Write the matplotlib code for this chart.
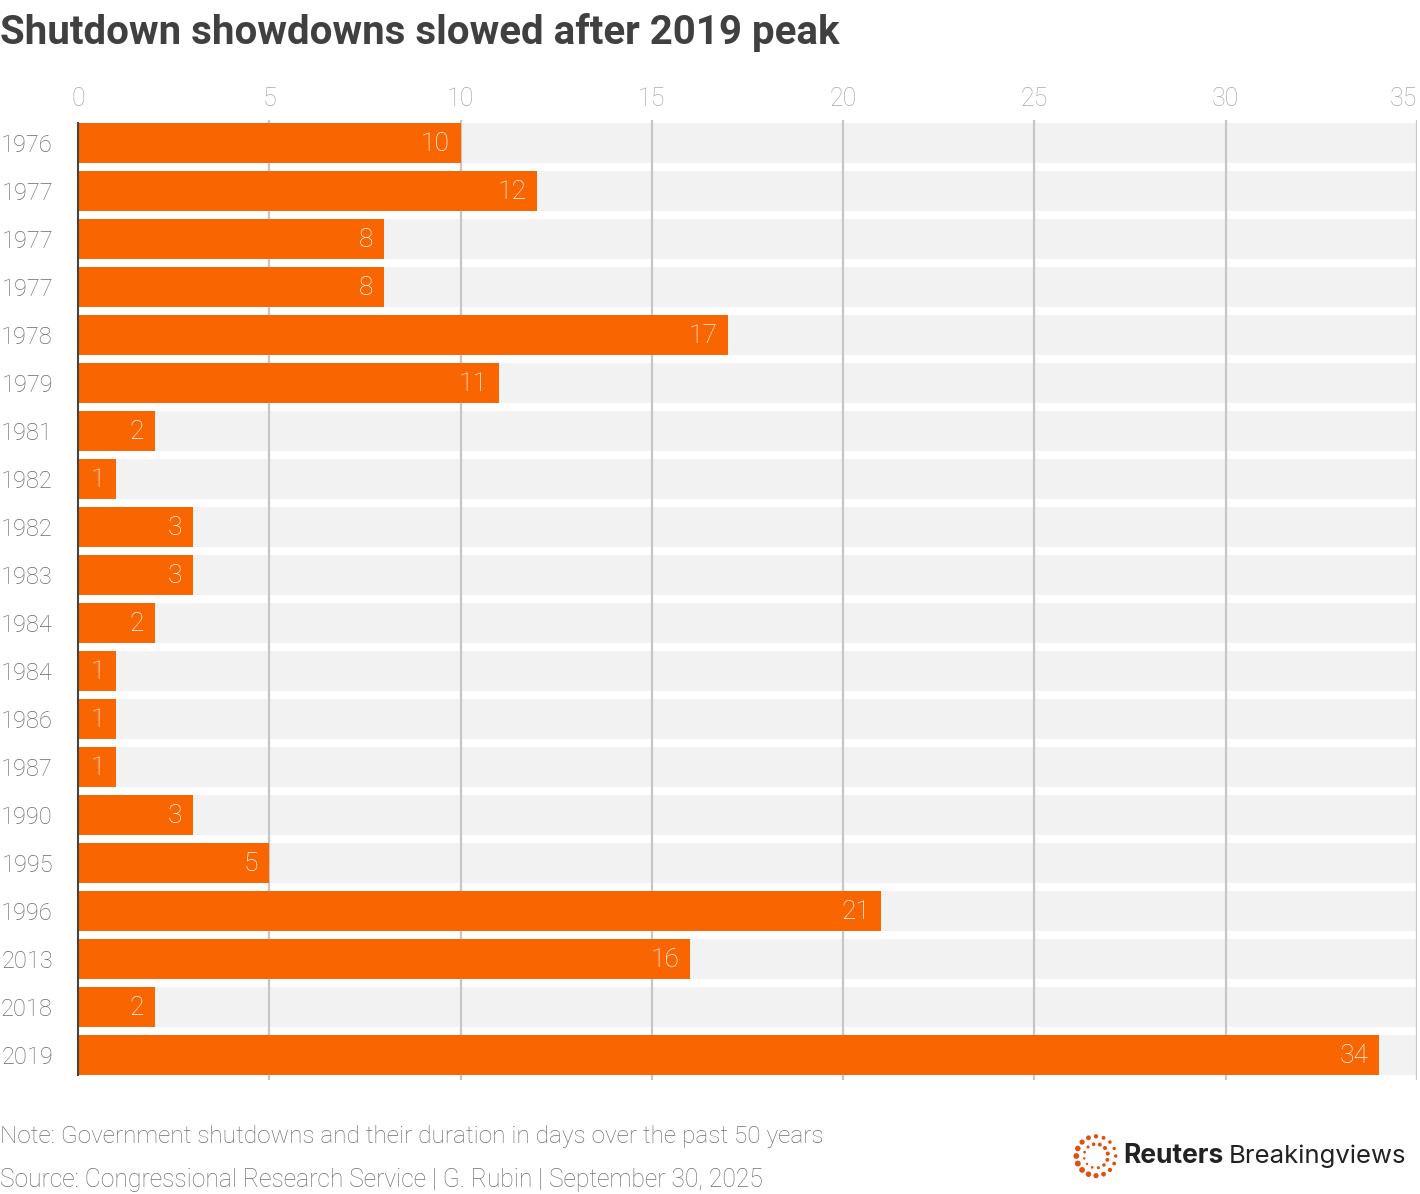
import numpy as np
import matplotlib
matplotlib.use("Agg")
import matplotlib.pyplot as plt

years = ["1976", "1977", "1977", "1977", "1978", "1979", "1981", "1982", "1982", "1983",
         "1984", "1984", "1986", "1987", "1990", "1995", "1996", "2013", "2018", "2019"]
days = [10, 12, 8, 8, 17, 11, 2, 1, 3, 3, 2, 1, 1, 1, 3, 5, 21, 16, 2, 34]
xticks = [0, 5, 10, 15, 20, 25, 30, 35]

title = "Shutdown showdowns slowed after 2019 peak"
note = "Note: Government shutdowns and their duration in days over the past 50 years"
source = "Source: Congressional Research Service | G. Rubin | September 30, 2025"

FONT = "Roboto"
FW = "light"
BAR = "#f96500"
BAND = "#f2f2f2"
GRID = "#c6c6c6"

fig = plt.figure(figsize=(14.2, 11.94), dpi=100)
ax = fig.add_axes([78/1420, 1 - 1079.5/1194, (1417-78)/1420, 960/1194])

n = len(years)
ypos = np.arange(n)
h = 40/48
ax.barh(ypos, [35]*n, height=h, color=BAND, zorder=1, left=0)
for x in xticks[1:]:
    ax.axvline(x, color=GRID, lw=1.6, zorder=2)
ax.barh(ypos, days, height=h, color=BAR, zorder=3)
for y, v in zip(ypos, days):
    ax.text(v - 0.28, y + 0.02, str(v), ha="right", va="center", color="white",
            fontsize=19, family=FONT, fontweight=FW, zorder=4)

ax.set_xlim(0, 35)
ax.set_ylim(n - 0.5, -0.5)
ax.set_yticks(ypos)
ax.set_yticklabels(years)
ax.set_xticks(xticks)
ax.xaxis.tick_top()
ax.tick_params(axis="both", length=0)
ax.tick_params(axis="y", pad=18, labelsize=17, labelcolor="#6a6a6a")
ax.tick_params(axis="x", pad=6, labelsize=18, labelcolor="#a8a8a8")
for lab in ax.get_xticklabels() + ax.get_yticklabels():
    lab.set_family(FONT)
    lab.set_fontweight(FW)
for lab in ax.get_xticklabels()[-1:]:
    lab.set_horizontalalignment("right")
for s in ["top", "right", "bottom"]:
    ax.spines[s].set_visible(False)
ax.spines["left"].set_color("#444444")
ax.spines["left"].set_linewidth(1.5)
ax.spines["left"].set_bounds(-0.5 + (1-h)/2, n - 0.5 - (1-h)/2)
ax.spines["left"].set_zorder(5)

fig.text(0, 1 - 32/1194, title, ha="left", va="center", fontsize=29,
         fontweight="bold", color="#404040", family=FONT)
fig.text(0, 1 - 1137/1194, note, ha="left", va="center", fontsize=17.6,
         color="#707070", family=FONT, fontweight=FW)
fig.text(0, 1 - 1180/1194, source, ha="left", va="center", fontsize=17.7,
         color="#707070", family=FONT, fontweight=FW)

# logo
lax = fig.add_axes([1072/1420, 1 - 1180/1194, 48/1420, 48/1194])
lax.set_xlim(-1, 1); lax.set_ylim(-1, 1); lax.set_aspect("equal"); lax.axis("off")
ang_o = np.linspace(0, 2*np.pi, 16, endpoint=False)
sz_o = 6 + 12*(0.5 + 0.5*np.cos(ang_o - 3.5))
lax.scatter(0.82*np.cos(ang_o), 0.82*np.sin(ang_o), s=sz_o, color="#e0500f", lw=0)
ang_i = np.linspace(0, 2*np.pi, 12, endpoint=False) + 0.2
sz_i = 3 + 6*(0.5 + 0.5*np.cos(ang_i - 0.5))
lax.scatter(0.5*np.cos(ang_i), 0.5*np.sin(ang_i), s=sz_i, color="#e0500f", lw=0)
fig.text(1123/1420, 1 - 1156/1194, "Reuters", ha="left", va="center", fontsize=19,
         fontweight="bold", color="#222222", family="Inter")
fig.text(1229/1420, 1 - 1156/1194, "Breakingviews", ha="left", va="center", fontsize=18.5,
         color="#222222", family="Inter")

fig.savefig("out.png", dpi=100)
